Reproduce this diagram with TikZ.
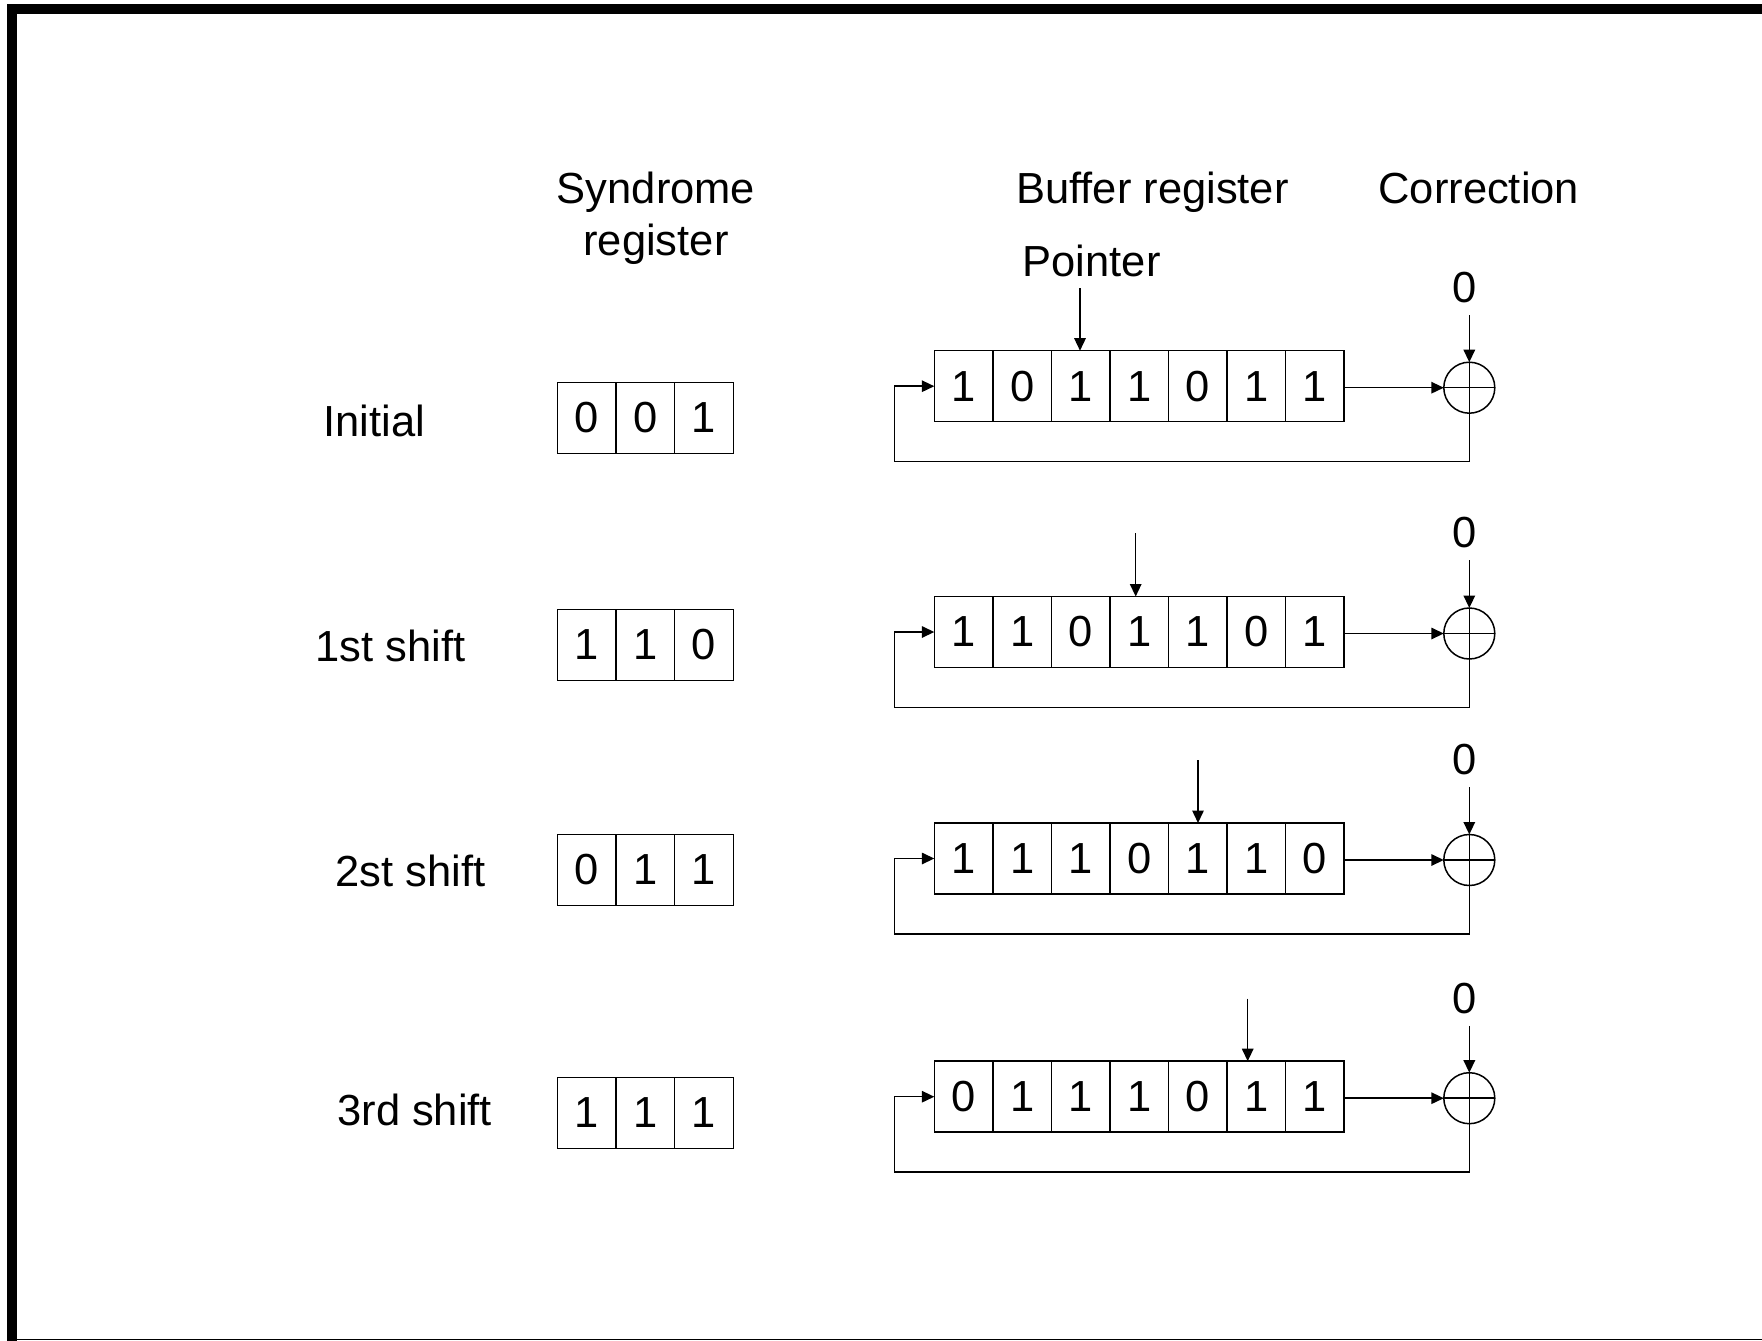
\documentclass[tikz,border=0pt]{standalone}
\usepackage{fontspec}
\setmainfont{Liberation Sans}
\usetikzlibrary{arrows.meta,calc}

\begin{document}
\begin{tikzpicture}[x=1pt,y=-1pt,
  every node/.style={font=\fontsize{43.5pt}{52pt}\selectfont, inner sep=0pt, outer sep=0pt},
  cell/.style={draw, line width=1.5pt, minimum width=58.6pt, minimum height=71pt},
  bcell/.style={cell, minimum width=58.53pt},
  wire/.style={line width=1.5pt},
  tip/.style={wire, -{Triangle[length=12.5pt,width=11.5pt]}},
  xorgate/.style={draw, circle, line width=1.5pt, minimum size=51pt},
  lbl/.style={anchor=base}]

\useasboundingbox (0,0) rectangle (1762,1341);

% page frame: heavy top and left edges, thin bottom edge
\fill (7,4) rectangle (1762,14);
\fill (7,4) rectangle (17,1341);
\draw[line width=1.2pt] (17,1339.7) -- (1762,1339.7);

% column headings
\node[lbl] (hsyn1) at (656,203) {Syndrome};
\node[lbl] (hsyn2) at (656,255) {register};
\node[lbl] (hbuf)  at (1152.5,203) {Buffer register};
\node[lbl] (hcor)  at (1478.8,203) {Correction};
\node[lbl] (hptr)  at (1091.7,276.7) {Pointer};

% one row per shift step:
% row / label / label x / label baseline / syndrome y / syndrome bits /
% buffer y / buffer bits / pointer x / correction-bit y
\foreach \r/\lab/\lx/\ly/\sy/\sbits/\by/\bbits/\px/\zy in {
  1/Initial/374.2/436.5/418/{0,0,1}/386.2/{1,0,1,1,0,1,1}/1080/288,
  2/1st shift/390.5/661/645/{1,1,0}/632/{1,1,0,1,1,0,1}/1135.7/533,
  3/2st shift/410.7/886/870/{0,1,1}/858.5/{1,1,1,0,1,1,0}/1198/760,
  4/3rd shift/414.7/1125/1113/{1,1,1}/1096.7/{0,1,1,1,0,1,1}/1247.7/998.5}{
  \node[lbl] (l\r) at (\lx,\ly) {\lab};
  % syndrome register
  \foreach \b [count=\i] in \sbits {
    \node[cell] (s\r-\i) at ({557.5+29.3+58.6*(\i-1)},\sy) {\b};
  }
  % buffer register
  \foreach \b [count=\i] in \bbits {
    \node[bcell] (b\r-\i) at ({934.3+29.27+58.53*(\i-1)},\by) {\b};
  }
  % correction adder
  \node[xorgate] (x\r) at (1469.3,\by+1.5) {};
  \draw[wire] (x\r.north) -- (x\r.south) (x\r.west) -- (x\r.east);
  \node (z\r) at (1465,\zy) {0};
  \draw[tip, shorten <=12pt] (z\r.south -| x\r.north) -- (x\r.north);
  % buffer output into the adder
  \draw[tip] (b\r-7.east |- x\r.west) -- (x\r.west);
  % feedback loop back to the buffer input
  \draw[tip] (x\r.south) |- ($(b\r-1.south west)+(-40,40)$) |- (b\r-1.west);
  % pointer
  \coordinate (p\r) at (\px,\zy);
  \draw[tip] (p\r) -- (p\r |- b\r-1.north);
}
\end{tikzpicture}
\end{document}
